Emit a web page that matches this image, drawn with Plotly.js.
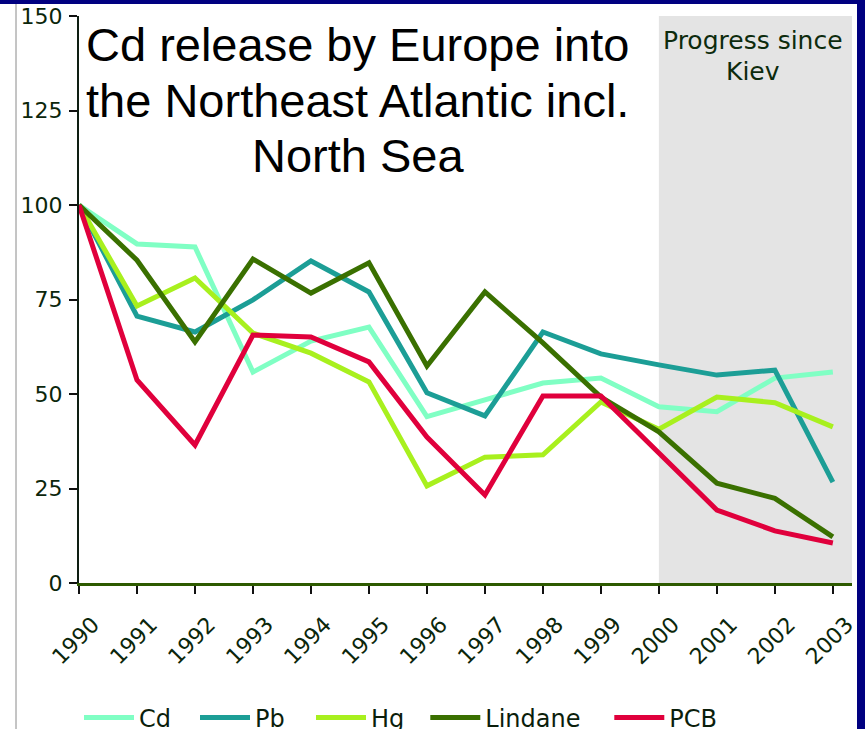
<!DOCTYPE html>
<html>
<head>
<meta charset="utf-8">
<script src="https://cdn.plot.ly/plotly-3.0.1.min.js"></script>
<style>
  html, body { margin: 0; padding: 0; background: #000080; width: 865px; height: 729px; overflow: hidden; }
  #chart { position: absolute; left: 0; top: 4px; width: 857px; height: 745px; background: #ffffff; }
</style>
</head>
<body>
<div id="chart"></div>
<script>
// Index of releases, 1990 = 100
const years = [1990, 1991, 1992, 1993, 1994, 1995, 1996, 1997, 1998, 1999, 2000, 2001, 2002, 2003];
const cd      = [100, 89.7, 88.9, 55.8, 64.0, 67.7, 44.0, 48.4, 52.9, 54.2, 46.6, 45.3, 54.2, 55.8];
const pb      = [100, 70.6, 66.4, 74.9, 85.2, 77.0, 50.3, 44.2, 66.4, 60.6, 57.7, 55.0, 56.3, 26.7];
const hg      = [100, 73.3, 80.7, 66.1, 60.8, 53.2, 25.7, 33.3, 33.9, 47.9, 40.7, 49.2, 47.7, 41.3];
const lindane = [100, 85.4, 63.8, 85.7, 76.7, 84.7, 57.4, 77.0, 63.5, 49.2, 40.0, 26.4, 22.4, 12.2];
const pcb     = [100, 53.7, 36.5, 65.6, 65.1, 58.5, 38.6, 23.3, 49.5, 49.5, 34.4, 19.3, 13.8, 10.6];

const seriesNames = ['Cd', 'Pb', 'Hg', 'Lindane', 'PCB'];
const seriesValues = [cd, pb, hg, lindane, pcb];
const seriesColors = ['#80FFC4', '#1C9E96', '#A8F01E', '#3A7000', '#E0003C'];
const seriesLegend = ['legend', 'legend', 'legend', 'legend2', 'legend2'];

const tickYears = years.map(String);
const yTicks = [0, 25, 50, 75, 100, 125, 150];

const titleLines = ['Cd release by Europe into', 'the Northeast Atlantic incl.', 'North Sea'];
const panelLines = ['Progress since', 'Kiev'];

const traces = seriesNames.map((name, i) => ({
  type: 'scatter',
  mode: 'lines',
  name: name,
  x: years,
  y: seriesValues[i],
  line: { color: seriesColors[i], width: 5 },
  legend: seriesLegend[i],
  cliponaxis: false
}));

const tickFont = { family: 'DejaVu Sans, Verdana, sans-serif', size: 22, color: '#0b260b' };
const legendFont = { family: 'DejaVu Sans, Verdana, sans-serif', size: 24, color: '#0b1e0b' };

const annotations = [];
const titleY = [142.5, 127.6, 113.2];
titleLines.forEach((t, i) => annotations.push({
  text: t, xref: 'x', yref: 'y', x: 1994.81, y: titleY[i],
  xanchor: 'center', yanchor: 'middle', showarrow: false,
  font: { family: 'Liberation Sans, Arial, sans-serif', size: 47, color: '#000000' }
}));
const panelY = [143.4, 135.2];
panelLines.forEach((t, i) => annotations.push({
  text: t, xref: 'x', yref: 'y', x: 2001.62, y: panelY[i],
  xanchor: 'center', yanchor: 'middle', showarrow: false,
  font: { family: 'DejaVu Sans, Verdana, sans-serif', size: 25, color: '#0d2b0d' }
}));

const layout = {
  width: 857,
  height: 745,
  margin: { l: 79, r: 5, t: 12, b: 166, autoexpand: false },
  paper_bgcolor: '#ffffff',
  plot_bgcolor: '#ffffff',
  showlegend: true,
  xaxis: {
    range: [1990, 2003.33],
    tickvals: years,
    ticktext: tickYears,
    tickangle: -45,
    ticks: 'outside',
    ticklen: 8,
    tickwidth: 2,
    tickcolor: '#111111',
    ticklabelshift: 14,
    ticklabelstandoff: 9,
    ticklabeloverflow: 'allow',
    showline: true,
    linecolor: '#2d5a00',
    linewidth: 3,
    showgrid: false,
    zeroline: false,
    automargin: false,
    tickfont: tickFont,
    fixedrange: true
  },
  yaxis: {
    range: [0, 150],
    tickvals: yTicks,
    ticks: 'outside',
    ticklen: 8,
    tickwidth: 2,
    tickcolor: '#111111',
    ticklabelstandoff: 2,
    ticklabeloverflow: 'allow',
    showline: true,
    linecolor: '#0e1e12',
    linewidth: 2,
    showgrid: false,
    zeroline: false,
    automargin: false,
    tickfont: tickFont,
    fixedrange: true
  },
  legend: {
    orientation: 'h',
    x: 0.0, xanchor: 'left',
    y: -0.238, yanchor: 'middle',
    font: legendFont,
    itemwidth: 50,
    entrywidth: 51, entrywidthmode: 'pixels',
    bgcolor: 'rgba(0,0,0,0)'
  },
  legend2: {
    orientation: 'h',
    x: 0.448, xanchor: 'left',
    y: -0.238, yanchor: 'middle',
    font: legendFont,
    itemwidth: 50,
    entrywidth: 119, entrywidthmode: 'pixels',
    bgcolor: 'rgba(0,0,0,0)'
  },
  shapes: [
    // shaded period after 2000
    { type: 'rect', xref: 'x', yref: 'y', x0: 2000, x1: 2003.33, y0: 0, y1: 150,
      fillcolor: '#e4e4e4', line: { width: 0 }, layer: 'below' },
    // thin frame line on the left
    { type: 'line', xref: 'paper', yref: 'paper', x0: -0.0815, x1: -0.0815, y0: -0.5, y1: 1.05,
      line: { color: '#8a8a8a', width: 1 } }
  ],
  annotations: annotations
};

Plotly.newPlot('chart', traces, layout, { displayModeBar: false, staticPlot: true });
</script>
</body>
</html>
